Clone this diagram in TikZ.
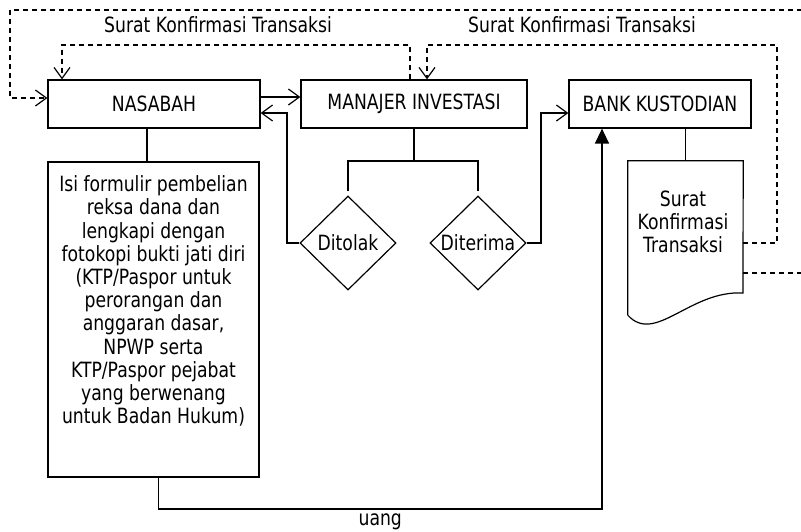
\documentclass[tikz,border=0pt]{standalone}
\usepackage{fontspec}
\setmainfont{DejaVu Sans}[FakeStretch=0.82]
\usetikzlibrary{arrows.meta,positioning,shapes.geometric,calc}

\begin{document}
\begin{tikzpicture}[
    x=1pt, y=-1pt,
    box/.style={rectangle, draw, line width=1.2pt, inner sep=0pt,
                align=center},
    choice/.style={diamond, draw, line width=1.2pt, inner sep=0pt,
                   minimum width=96pt, minimum height=94pt},
    line/.style={line width=1.2pt},
    arr/.style={-{Straight Barb[length=11pt,width=16pt]}, line width=1.2pt},
    darr/.style={-{Straight Barb[length=11pt,width=16pt]}, line width=1.2pt,
                 dash pattern=on 5pt off 4pt},
    farr/.style={-{Triangle[length=15pt,width=14pt]}, line width=1.4pt},
    every node/.style={font=\fontsize{21}{23.2}\selectfont, text=black}
  ]

  \clip (0,0) rectangle (801,531);
  \fill[white] (0,0) rectangle (801,531);

  % ============ TOP ROW ============
  \node[box, minimum width=212pt, minimum height=48pt]
    (nasabah) at (154,104) {NASABAH};
  \node[box, minimum width=226pt, minimum height=48pt]
    (mi) at (414,104) {MANAJER INVESTASI};
  \node[box, minimum width=182pt, minimum height=48pt]
    (bank) at (660,104) {\raisebox{-6pt}{BANK KUSTODIAN}};

  % ---- Formulir ----
  \node[box, minimum width=211pt, minimum height=315pt]
    (form) at (153.5,319.5) {};
  \node[align=center] (formtxt) at (153.5,301)
    {Isi formulir pembelian\\reksa dana dan\\lengkapi dengan\\fotokopi bukti jati diri\\
     (KTP/Paspor untuk\\perorangan dan\\anggaran dasar,\\NPWP serta\\
     KTP/Paspor pejabat\\yang berwenang\\untuk Badan Hukum)};

  % ---- Keputusan ----
  \node[choice] (tolak) at (348,243) {Ditolak};
  \node[choice] (terima) at (478,243) {Diterima};

  % ---- Dokumen ----
  \node[minimum width=115pt, minimum height=154pt, inner sep=0pt]
    (doc) at (685.5,238) {};
  \draw[line] (doc.south west) -- (doc.north west) -- (doc.north east)
    -- (743,293) .. controls (690,290) and (655,345) .. (doc.south west);
  \node[align=center] (doctxt) at (683,222) {Surat\\Konfirmasi\\Transaksi};

  % ---- Labels ----
  \node (lblA) at (218,25) {Surat Konfirmasi Transaksi};
  \node (lblB) at (582,25) {Surat Konfirmasi Transaksi};

  % ============ CONNECTORS ============
  \coordinate (tolakturn) at (287,113);
  \coordinate (terimaturn) at (541,113);
  \coordinate (split) at (414,161);
  \coordinate (uangR) at (602,509);
  \coordinate (outerNE) at (803,10);
  \coordinate (outerNW) at (10,10);
  \coordinate (innerNE) at (777,45);
  \coordinate (topL) at (62,45);

  \draw[arr] ([yshift=7pt]nasabah.east) -- ([yshift=7pt]mi.west);
  \draw[arr] (tolak.west) -| (tolakturn) -- ([yshift=-9pt]nasabah.east);
  \draw[line] (mi.south) -- (split);
  \draw[line] ([yshift=4pt]tolak.north) |- (split) -| ([yshift=4pt]terima.north);
  \draw[arr] (terima.east) -| (terimaturn) -- ([yshift=-9pt]bank.west);
  \draw[line] (doc.north) -- (doc.north |- bank.south);
  \draw[line] ([xshift=-7pt]nasabah.south) -- ([xshift=-7pt]nasabah.south |- form.north);

  % money flow
  \draw[farr] ([xshift=5pt]form.south) |- (uangR)
    node[pos=0.75, below=1pt] (uang) {uang}
    -- ([xshift=-58pt]bank.south);

  % dashed confirmation flows
  \draw[darr] ([yshift=-35pt]doc.east) -| (outerNE) -- (outerNW)
    |- ([yshift=6pt]nasabah.west);
  \draw[darr] ([yshift=-5pt]doc.east) -| (innerNE) -| ([xshift=13pt]mi.north);
  \draw[darr] ([xshift=-4pt]mi.north) |- (topL) -- ([xshift=-92pt]nasabah.north);

\end{tikzpicture}
\end{document}
